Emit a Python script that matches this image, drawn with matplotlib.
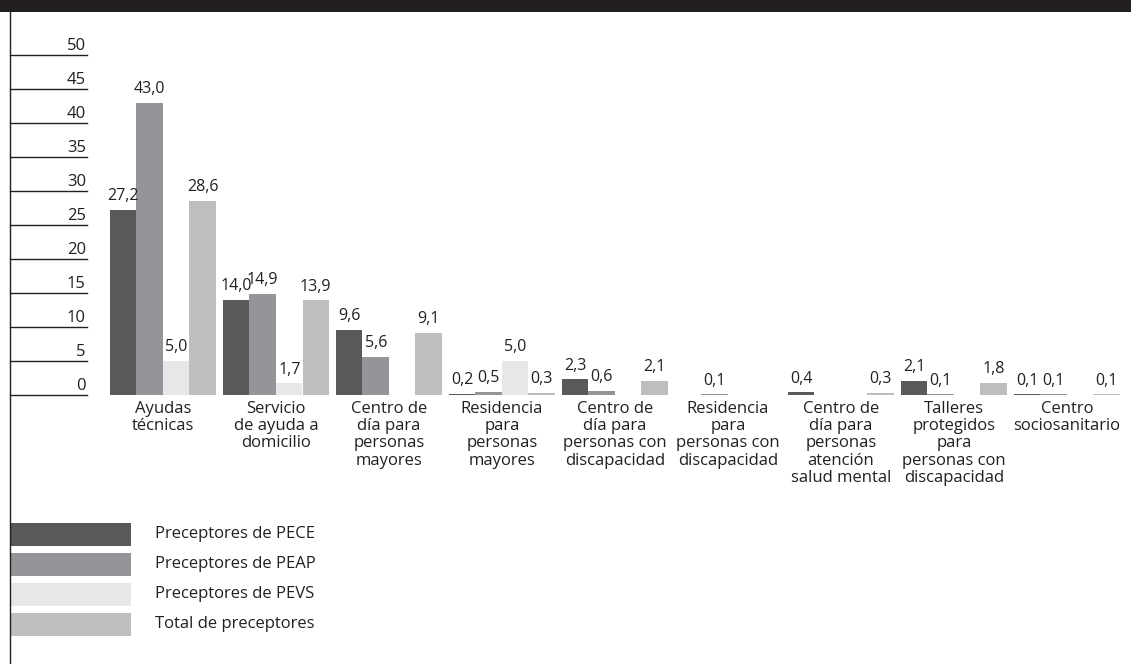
import matplotlib.pyplot as plt
import matplotlib.transforms as mtransforms
from matplotlib.patches import Rectangle
from matplotlib.lines import Line2D
import numpy as np

plt.rcParams['font.family'] = ['Open Sans', 'DejaVu Sans']

# categories and values (%), None = no bar
categories = [
    "Ayudas\ntécnicas",
    "Servicio\nde ayuda a\ndomicilio",
    "Centro de\ndía para\npersonas\nmayores",
    "Residencia\npara\npersonas\nmayores",
    "Centro de\ndía para\npersonas con\ndiscapacidad",
    "Residencia\npara\npersonas con\ndiscapacidad",
    "Centro de\ndía para\npersonas\natención\nsalud mental",
    "Talleres\nprotegidos\npara\npersonas con\ndiscapacidad",
    "Centro\nsociosanitario",
]
pece = [27.2, 14.0, 9.6, 0.2, 2.3, None, 0.4, 2.1, 0.1]
peap = [43.0, 14.9, 5.6, 0.5, 0.6, 0.1, None, 0.1, 0.1]
pevs = [5.0, 1.7, None, 5.0, None, None, None, None, None]
total = [28.6, 13.9, 9.1, 0.3, 2.1, None, 0.3, 1.8, 0.1]

series_names = ["Preceptores de PECE", "Preceptores de PEAP",
                "Preceptores de PEVS", "Total de preceptores"]
series_colors = ["#58595b", "#939598", "#e6e7e8", "#bcbec0"]
y_ticks = [0, 5, 10, 15, 20, 25, 30, 35, 40, 45, 50]

text_color = "#231f20"
W, H = 1131, 664

fig = plt.figure(figsize=(W / 100, H / 100), dpi=100)

# axes: pixel x 10..1131, 0 at pixel y 395, 6.8 px per unit
ax_left, ax_right = 10, 1131
ax_bottom_px, px_per_unit = 395, 6.8
ax_h = 50 * px_per_unit
ax = fig.add_axes([ax_left / W, (H - ax_bottom_px) / H,
                   (ax_right - ax_left) / W, ax_h / H])
ax.set_axis_off()

spacing = 113.0
x0_px = 163.0
ax.set_xlim((ax_left - x0_px) / spacing, (ax_right - x0_px) / spacing)
ax.set_ylim(0, 50)

x = np.arange(len(categories))
bw = 26.5 / spacing
all_series = [pece, peap, pevs, total]
for k, (vals, col) in enumerate(zip(all_series, series_colors)):
    pos = x + (k - 1.5) * bw
    for xi, v in zip(pos, vals):
        if v is None:
            continue
        ax.bar(xi, v, width=bw, color=col, linewidth=0)
        ax.annotate(f"{v:.1f}".replace(".", ","), (xi, v), xytext=(0, 7),
                    textcoords="offset points", ha="center", va="baseline",
                    fontsize=11.5, color=text_color)

# y scale: short lines with labels above them
trans = mtransforms.blended_transform_factory(ax.transAxes, ax.transData)
line_end = (87 - ax_left) / (ax_right - ax_left)
for t in y_ticks:
    ax.plot([0, line_end], [t, t], color=text_color, lw=1, transform=trans,
            clip_on=False)
    ax.annotate(str(t), (line_end - 0.001, t), xycoords=trans,
                xytext=(0, 3.8), textcoords="offset points",
                ha="right", va="baseline", fontsize=12, color=text_color)

# category labels
trans_x = mtransforms.blended_transform_factory(ax.transData, ax.transAxes)
for xi, lab in zip(x, categories):
    ax.annotate(lab, (xi, 0), xycoords=trans_x, xytext=(0, -4),
                textcoords="offset points", ha="center", va="top",
                fontsize=12, color=text_color, linespacing=1.12)

# legend
for i, (name, col) in enumerate(zip(series_names, series_colors)):
    top = 523 + 30 * i
    fig.patches.append(Rectangle((10 / W, (H - top - 23) / H), 121 / W, 23 / H,
                                 transform=fig.transFigure, color=col, lw=0))
    fig.text(155 / W, (H - top - 11.5) / H, name, ha="left", va="center",
             fontsize=12, color=text_color)

# header band and left frame line
fig.patches.append(Rectangle((0, (H - 12) / H), 1, 12 / H,
                             transform=fig.transFigure, color=text_color, lw=0))
fig.lines.append(Line2D([9.5 / W, 9.5 / W], [0, (H - 12) / H],
                        transform=fig.transFigure, color=text_color, lw=1))

fig.savefig("out.png", dpi=100)
